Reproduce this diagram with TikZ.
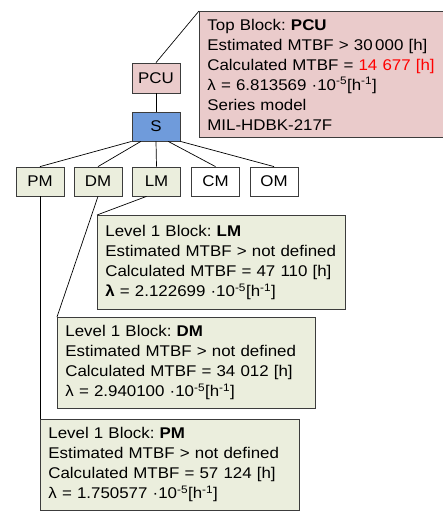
\documentclass[tikz,border=0pt]{standalone}
\usepackage{fontspec}
\setmainfont[FakeStretch=1.09]{Liberation Sans}
\usetikzlibrary{calc}
\definecolor{pcupink}{RGB}{234,203,203}
\definecolor{sblue}{RGB}{111,155,219}
\definecolor{lvlgreen}{RGB}{235,238,221}
\definecolor{edgegray}{RGB}{60,60,60}
\definecolor{calcred}{RGB}{255,0,0}
\frenchspacing

\begin{document}
\begin{tikzpicture}[x=1pt,y=-1pt,font=\fontsize{15.5}{20}\selectfont,
  blk/.style={draw=edgegray,line width=0.8pt,minimum width=48pt,minimum height=29pt,inner sep=0pt},
  info/.style={draw=edgegray,line width=0.8pt,anchor=north west,align=left,inner xsep=8pt,inner ysep=0pt},
  link/.style={line width=0.7pt}]

\useasboundingbox (0,0) rectangle (443,511);

% tree
\node[blk,fill=pcupink,minimum height=30pt] (pcu) at (156,78) {PCU};
\node[blk,fill=sblue] (s) at (156,126.5) {S};

\node[blk,fill=lvlgreen] (pm) at (40,181.5) {PM};
\node[blk,fill=lvlgreen] (dm) at (98,181.5) {DM};
\node[blk,fill=lvlgreen] (lm) at (156.5,181.5) {LM};
\node[blk] (cm) at (215.5,181.5) {CM};
\node[blk] (om) at (274,181.5) {OM};

\draw[link] (pcu) -- (s);
\draw[link] (s.south west) -- (pm.north);
\draw[link] ($(s.south west)!0.19!(s.south east)$) -- (dm.north);
\draw[link] (s.south) -- (lm.north);
\draw[link] ($(s.south west)!0.75!(s.south east)$) -- (cm.north);
\draw[link] (s.south east) -- (om.north);

% callouts
\node[info,fill=pcupink,text width=229pt,minimum height=126pt] (pcuinfo) at (199,11)
  {Top Block: \textbf{PCU}\\
   Estimated MTBF > 30\,000 [h]\\
   Calculated MTBF = \textcolor{calcred}{14 677 [h]}\\
   λ = 6.813569 ·10\textsuperscript{-5}[h\textsuperscript{-1}]\\
   Series model\\
   MIL-HDBK-217F};

\node[info,fill=lvlgreen,text width=232pt,minimum height=94pt] (lminfo) at (97,215)
  {Level 1 Block: \textbf{LM}\\
   Estimated MTBF > not defined\\
   Calculated MTBF = 47 110 [h]\\
   \textbf{λ} = 2.122699 ·10\textsuperscript{-5}[h\textsuperscript{-1}]};

\node[info,fill=lvlgreen,text width=242pt,minimum height=91pt] (dminfo) at (57,317)
  {Level 1 Block: \textbf{DM}\\
   Estimated MTBF > not defined\\
   Calculated MTBF = 34 012 [h]\\
   λ = 2.940100 ·10\textsuperscript{-5}[h\textsuperscript{-1}]};

\node[info,fill=lvlgreen,text width=243pt,minimum height=91pt] (pminfo) at (40,419)
  {Level 1 Block: \textbf{PM}\\
   Estimated MTBF > not defined\\
   Calculated MTBF = 57 124 [h]\\
   λ = 1.750577 ·10\textsuperscript{-5}[h\textsuperscript{-1}]};

\draw[link] (pcu.north) -- (pcuinfo.north west);
\draw[link] ([xshift=-10pt]lm.south) -- (lminfo.north west);
\draw[link] (dm.south) -- (dminfo.north west);
\draw[link] (pm.south) -- (pminfo.north west);

\end{tikzpicture}
\end{document}
